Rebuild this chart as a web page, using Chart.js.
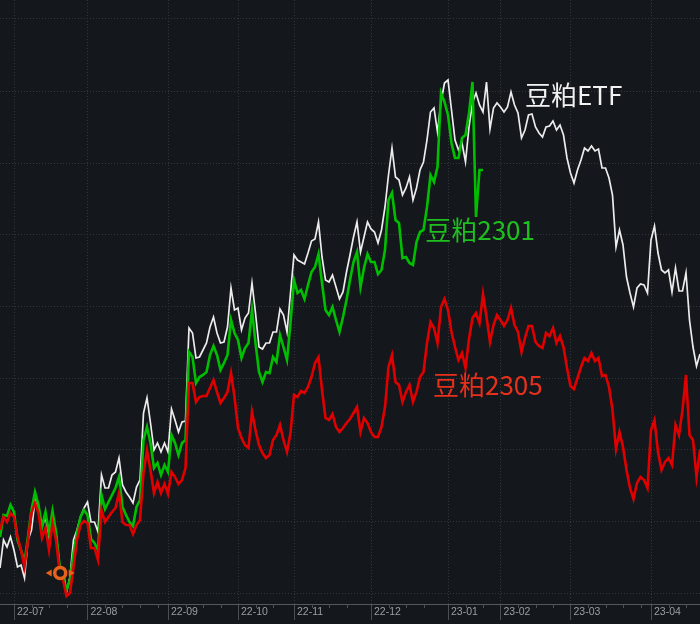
<!DOCTYPE html>
<html>
<head>
<meta charset="utf-8">
<style>
  html, body { margin: 0; padding: 0; background: #14171c; }
  canvas { display: block; }
</style>
<script src="https://cdn.jsdelivr.net/npm/chart.js@4"></script>
</head>
<body>
<canvas id="chart" width="700" height="624"></canvas>
<script>
// trading day index of each month start, and its label
const monthDays = [4, 25, 48, 68, 84, 106, 128, 143, 163, 186];
const monthLabels = ['22-07', '22-08', '22-09', '22-10', '22-11', '22-12', '23-01', '23-02', '23-03', '23-04'];

// horizontal grid levels
const gridLevels = [0, 72, 143, 215, 287, 359, 430, 502, 574];

// relative price level per trading day
const etfValues = [
  25, 53, 46, 56, 43, 26, 28, 15, 53, 63,
  93, 80, 66, 76, 56, 76, 60, 28, 23, 1,
  16, 53, 63, 76, 85, 91, 71, 71, 61, 118,
  105, 105, 118, 121, 135, 108, 101, 96, 90, 106,
  113, 180, 195, 170, 143, 150, 141, 150, 141, 184,
  173, 161, 171, 172, 265, 260, 235, 236, 243, 250,
  266, 276, 260, 250, 251, 266, 305, 283, 285, 263,
  275, 280, 310, 280, 246, 244, 250, 250, 261, 261,
  284, 278, 261, 300, 338, 333, 331, 329, 340, 352,
  354, 371, 336, 313, 311, 318, 306, 294, 301, 321,
  338, 356, 371, 341, 356, 371, 364, 361, 350, 363,
  386, 418, 445, 416, 413, 398, 405, 416, 393, 405,
  423, 431, 453, 481, 485, 461, 491, 510, 513, 483,
  453, 443, 450, 431, 466, 490, 500, 488, 481, 511,
  464, 485, 490, 486, 481, 486, 501, 488, 480, 455,
  463, 478, 479, 466, 460, 456, 466, 467, 472, 463,
  468, 458, 435, 420, 410, 423, 433, 445, 442, 447,
  442, 444, 425, 425, 415, 398, 346, 363, 348, 316,
  300, 286, 305, 309, 308, 300, 353, 367, 340, 323,
  320, 323, 301, 325, 302, 302, 320, 273, 246, 227,
  239
];
const m2305Values = [
  63, 76, 71, 80, 76, 56, 43, 26, 53, 80,
  90, 80, 55, 65, 43, 70, 53, 23, 13, -3,
  0, 26, 53, 68, 72, 70, 45, 45, 33, 83,
  71, 76, 81, 85, 100, 71, 68, 68, 59, 68,
  73, 120, 143, 123, 100, 111, 100, 109, 99, 121,
  116, 109, 113, 125, 210, 210, 191, 196, 197, 197,
  205, 213, 201, 190, 195, 201, 220, 196, 165, 155,
  148, 145, 181, 163, 148, 140, 135, 138, 153, 158,
  168, 153, 141, 160, 198, 196, 202, 200, 206, 216,
  230, 236, 203, 175, 173, 179, 166, 161, 165, 170,
  174, 180, 186, 161, 175, 170, 161, 156, 156, 166,
  186, 226, 238, 211, 208, 191, 201, 208, 191, 201,
  216, 221, 250, 271, 265, 250, 286, 294, 283, 261,
  246, 233, 240, 225, 254, 275, 280, 270, 299, 276,
  251, 268, 278, 273, 267, 273, 285, 268, 261, 241,
  255, 267, 267, 251, 247, 245, 260, 257, 265, 250,
  257, 246, 225, 207, 204, 215, 226, 235, 232, 240,
  232, 235, 217, 218, 206, 183, 144, 161, 146, 123,
  105, 94, 110, 116, 113, 105, 163, 173, 141, 123,
  131, 135, 128, 168, 158, 183, 218, 158, 153, 116,
  143
];
const m2301Values = [
  56, 78, 77, 88, 81, 53, 43, 31, 56, 83,
  101, 88, 66, 81, 60, 82, 61, 28, 16, 3,
  13, 40, 60, 76, 83, 78, 54, 50, 43, 98,
  84, 91, 98, 105, 116, 86, 78, 71, 67, 86,
  93, 153, 166, 150, 125, 130, 118, 128, 121, 158,
  150, 138, 150, 153, 241, 236, 210, 216, 218, 221,
  238, 247, 238, 223, 230, 238, 273, 260, 253, 235,
  245, 250, 283, 250, 221, 211, 221, 220, 236, 231,
  258, 246, 233, 270, 313, 300, 303, 294, 308, 321,
  326, 339, 310, 283, 278, 286, 273, 261, 276, 293,
  313, 331, 341, 306, 325, 339, 331, 331, 319, 323,
  343, 393, 400, 373, 370, 335, 336, 330, 328, 351,
  361, 363, 386, 418, 411, 426, 500, 491, 478, 450,
  435, 435, 455, 458, 480, 511, 376, 423, 423
];

// selection marker on the chart
const markerDays = [14.2, 17.2, 20.2];
const markerLevels = [20, 20, 20];

// series captions
const captionTexts = ['豆粕ETF', '豆粕2301', '豆粕2305'];
const captionColors = ['#f2f2f2', '#1fbf1f', '#e8301c'];
const captionDays = [150, 121.5, 123.7];
const captionLevels = [498, 363, 208];

function toPoints(values) {
  return values.map((v, i) => ({ x: i, y: v }));
}

// small week ticks under the axis and the captions
const extrasPlugin = {
  id: 'extras',
  afterDatasetsDraw(chart) {
    const ctx = chart.ctx;
    const xScale = chart.scales.x;
    const yScale = chart.scales.y;
    const bottom = chart.chartArea.bottom;
    ctx.save();
    ctx.strokeStyle = '#4c4f53';
    ctx.lineWidth = 1;
    monthDays.forEach((start, m) => {
      const end = m + 1 < monthDays.length ? monthDays[m + 1] : 201;
      for (let d = start + 5; d < end - 2; d += 5) {
        const px = Math.round(xScale.getPixelForValue(d)) + 0.5;
        ctx.beginPath();
        ctx.moveTo(px, bottom);
        ctx.lineTo(px, bottom + 4);
        ctx.stroke();
      }
    });
    ctx.font = '26px "Noto Sans CJK SC"';
    ctx.textBaseline = 'middle';
    ctx.textAlign = 'left';
    captionTexts.forEach((t, i) => {
      ctx.fillStyle = captionColors[i];
      ctx.fillText(t, xScale.getPixelForValue(captionDays[i]), yScale.getPixelForValue(captionLevels[i]));
    });
    ctx.restore();
  }
};

new Chart(document.getElementById('chart'), {
  type: 'line',
  data: {
    datasets: [
      {
        label: 'marker',
        data: markerDays.map((d, i) => ({ x: d, y: markerLevels[i] })),
        showLine: false,
        pointStyle: ['triangle', 'circle', 'triangle'],
        pointRotation: [-90, 0, 90],
        pointRadius: [4, 5.5, 4],
        pointBackgroundColor: ['#e8631a', '#14171c', '#e8631a'],
        pointBorderColor: '#e8631a',
        pointBorderWidth: [0, 3.5, 0]
      },
      { label: '豆粕2305', data: toPoints(m2305Values), borderColor: '#e00000', borderWidth: 2.6, pointRadius: 0, tension: 0 },
      { label: '豆粕2301', data: toPoints(m2301Values), borderColor: '#00bf00', borderWidth: 2.6, pointRadius: 0, tension: 0 },
      { label: '豆粕ETF', data: toPoints(etfValues), borderColor: '#ececec', borderWidth: 1.7, pointRadius: 0, tension: 0 }
    ]
  },
  options: {
    responsive: false,
    animation: false,
    layout: { padding: 0, autoPadding: false },
    plugins: { legend: { display: false }, tooltip: { enabled: false } },
    scales: {
      x: {
        type: 'linear',
        min: 0,
        max: 200,
        afterBuildTicks(scale) {
          scale.ticks = monthDays.map(d => ({ value: d }));
        },
        afterFit(scale) {
          scale.height = 20;
        },
        grid: {
          color: '#33363b',
          tickColor: '#4c4f53',
          tickLength: 16,
          drawTicks: true
        },
        border: { display: true, color: '#55585c', dash: [1, 2] },
        ticks: {
          autoSkip: false,
          maxRotation: 0,
          align: 'start',
          padding: -14,
          labelOffset: 3,
          color: '#9a9ea2',
          font: { family: '"Liberation Sans"', size: 10.5 },
          callback(value) {
            return monthLabels[monthDays.indexOf(value)];
          }
        }
      },
      y: {
        min: -11,
        max: 593,
        afterBuildTicks(scale) {
          scale.ticks = gridLevels.map(v => ({ value: v }));
        },
        afterFit(scale) {
          scale.width = 0;
        },
        grid: { color: '#33363b', drawTicks: false },
        border: { display: false, dash: [1, 2] },
        ticks: { display: false }
      }
    }
  },
  plugins: [extrasPlugin]
});
</script>
</body>
</html>
